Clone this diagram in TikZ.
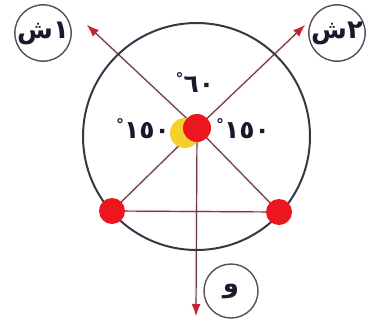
\documentclass[tikz,border=0pt]{standalone}
\usepackage{fontspec}
\usetikzlibrary{arrows.meta}
\newfontfamily\arabicfont[Script=Arabic]{DejaVu Sans}
\TeXXeTstate=1
\definecolor{linec}{RGB}{100,62,72}
\definecolor{ringc}{RGB}{55,55,72}
\definecolor{dotred}{RGB}{236,22,30}
\definecolor{dotyellow}{RGB}{245,208,45}
\definecolor{tipred}{RGB}{195,35,50}
\definecolor{labring}{RGB}{95,75,90}
\definecolor{inkc}{RGB}{25,25,45}
\pgfdeclarelayer{bg}
\pgfsetlayers{bg,main}
\tikzset{
  force/.style={draw=linec, line width=1.2pt},
  forcearrow/.style={force, -{Latex[length=12pt,width=9pt,color=tipred,fill=tipred]}},
  halo/.style={draw=red!40, line width=4pt, opacity=0.12},
  charge/.style={circle, fill=dotred, minimum size=26pt, inner sep=0pt},
  sun/.style={circle, fill=dotyellow, minimum size=30pt, inner sep=0pt},
  labelring/.style={circle, draw=labring, line width=1.4pt, minimum size=54pt, inner sep=0pt, text=inkc, font=\arabicfont\bfseries\fontsize{26}{26}\selectfont},
  anglelab/.style={font=\arabicfont\bfseries\fontsize{25}{25}\selectfont, text=inkc, inner sep=0pt},
}
\begin{document}
\begin{tikzpicture}[x=1pt,y=-1pt]
\useasboundingbox (0,0) rectangle (370,330);
\coordinate (O) at (196.5,136.5);
\coordinate (tipL) at (87,25);
\coordinate (tipR) at (305,25);
\coordinate (tipD) at (196,316);
\node[sun] (Y) at (185,133) {};
\node[charge, minimum size=28pt] (T) at (197,128) {};
\node[charge] (BL) at (112,211) {};
\node[charge] (BR) at (279,212) {};
\begin{pgfonlayer}{bg}
  \fill[white] (0,0) rectangle (370,330);
  \draw[halo] (BL.center) -- (T.center) -- (tipR);
  \draw[halo] (BR.center) -- (T.center) -- (tipL);
  \draw[halo] (T.center) -- (tipD);
  \draw[halo] (BL.center) -- (BR.center);
  \draw[force] (BL.center) -- (BR.center);
  \draw[force] (BR.center) -- (T.center);
  \draw[force] (BL.center) -- (T.center);
  \draw[forcearrow] (T.center) -- (tipL);
  \draw[forcearrow] (T.center) -- (tipR);
  \draw[forcearrow] (T.center) -- (tipD);
  \draw[ringc, line width=2pt] (O) circle[radius=113.5];
\end{pgfonlayer}
\node[labelring] (L1) at (43,33) {\beginR ١ش\endR};
\node[labelring] (L2) at (337,33) {\beginR ٢ش\endR};
\node[labelring] (L3) at (231,291) {و};
\node[anglelab] (A60) at (195,83) {\raisebox{8pt}{\fontsize{16}{16}\selectfont °}٦٠};
\node[anglelab] (A150L) at (143,129) {\raisebox{8pt}{\fontsize{16}{16}\selectfont °}١٥٠};
\node[anglelab] (A150R) at (243,129) {\raisebox{8pt}{\fontsize{16}{16}\selectfont °}١٥٠};
\end{tikzpicture}
\end{document}
